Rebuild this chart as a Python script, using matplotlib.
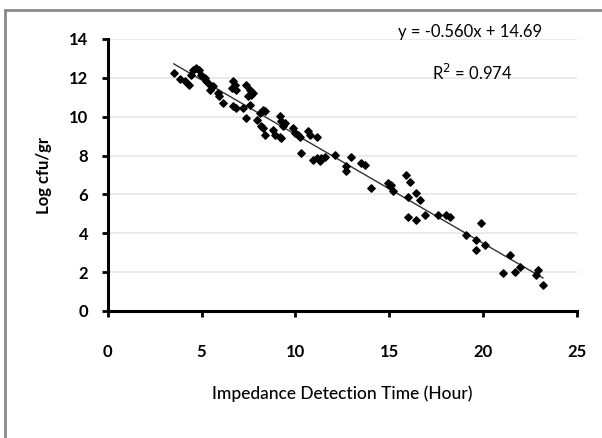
import numpy as np
import matplotlib.pyplot as plt
from matplotlib.lines import Line2D

plt.rcParams['font.family'] = ['Lato', 'DejaVu Sans']

# values
hours = [3.52, 3.84, 4.10, 4.33, 4.46, 4.55, 4.73, 4.87, 4.99, 5.17,
         5.26, 5.44, 5.44, 5.61, 5.88, 5.93, 6.15, 6.68, 6.77, 6.64,
         6.86, 6.68, 6.86, 7.21, 7.39, 7.57, 7.66, 7.75, 7.48, 7.39,
         7.57, 7.93, 8.10, 8.28, 8.37, 8.19, 8.28, 8.37, 8.81, 8.90,
         9.17, 9.26, 9.43, 9.34, 9.26, 9.17, 9.88, 9.97, 10.14, 10.23,
         10.68, 10.77, 11.13, 10.32, 10.94, 11.13, 11.39, 11.57, 11.30, 12.10,
         12.72, 12.72, 12.99, 13.52, 13.70, 14.05, 14.94, 15.12, 15.03, 15.21,
         15.92, 16.10, 16.01, 16.45, 16.63, 16.01, 16.45, 16.90, 17.60, 18.05,
         18.23, 19.12, 19.92, 19.65, 19.65, 20.10, 21.07, 21.43, 21.70, 21.96,
         22.85, 22.94, 23.20]
log_cfu = [12.25, 11.94, 11.82, 11.65, 12.16, 12.42, 12.51, 12.39, 12.16, 11.99,
           11.82, 11.65, 11.39, 11.56, 11.22, 11.08, 10.70, 11.82, 11.65, 11.48,
           11.39, 10.53, 10.45, 10.45, 11.65, 11.39, 11.13, 11.22, 11.05, 9.93,
           10.62, 9.85, 10.19, 10.36, 10.27, 9.50, 9.42, 9.07, 9.33, 9.07,
           10.02, 9.76, 9.68, 9.50, 8.90, 8.98, 9.42, 9.16, 9.07, 8.98,
           9.24, 9.07, 8.98, 8.13, 7.78, 7.87, 7.87, 7.95, 7.70, 8.04,
           7.44, 7.18, 7.95, 7.61, 7.53, 6.32, 6.58, 6.49, 6.41, 6.15,
           7.01, 6.66, 5.89, 6.07, 5.72, 4.86, 4.69, 4.95, 4.95, 4.95,
           4.86, 3.92, 4.52, 3.66, 3.14, 3.40, 1.94, 2.89, 2.03, 2.28,
           1.86, 2.11, 1.34]

slope, intercept = -0.560, 14.69
x_ticks = [0, 5, 10, 15, 20, 25]
y_ticks = [0, 2, 4, 6, 8, 10, 12, 14]

fig = plt.figure(figsize=(6.02, 4.38), dpi=100)
ax = fig.add_axes([0.179, 0.290, 0.779, 0.621])

ax.scatter(hours, log_cfu, marker='D', s=14, color='black', zorder=3)
line_x = np.array([min(hours), max(hours)])
ax.plot(line_x, slope * line_x + intercept, color='#333333', linewidth=1.0, zorder=2)

ax.set_xlim(0, 25)
ax.set_ylim(0, 14)
ax.set_xticks(x_ticks)
ax.set_yticks(y_ticks)
ax.yaxis.grid(True, color='#e6e6e6', linewidth=1.2)
ax.set_axisbelow(True)

for s in ['top', 'right']:
    ax.spines[s].set_visible(False)
for s in ['left', 'bottom']:
    ax.spines[s].set_linewidth(2.2)

ax.tick_params(axis='y', direction='out', length=4, width=2, pad=10, labelsize=12)
ax.tick_params(axis='x', direction='out', length=4, width=2, pad=20, labelsize=12)
for lab in ax.get_yticklabels() + ax.get_xticklabels():
    lab.set_fontweight('bold')

ax.set_ylabel('Log cfu/gr', fontsize=12, fontweight='bold', labelpad=12)
ax.set_xlabel('Impedance Detection Time (Hour)', fontsize=12.5, fontweight='medium', labelpad=18)

fig.text(0.781, 0.927, 'y = -0.560x + 14.69', fontsize=12, ha='center', va='center')
fig.text(0.785, 0.833, 'R$^2$ = 0.974', fontsize=12, ha='center', va='center')

# grey frame round the chart area (only top and left edge visible)
fig.add_artist(Line2D([5 / 602, 5 / 602], [0, 1 - 10 / 438], transform=fig.transFigure,
                      color='#8a8a8a', linewidth=2))
fig.add_artist(Line2D([5 / 602, 1], [1 - 10 / 438, 1 - 10 / 438], transform=fig.transFigure,
                      color='#8a8a8a', linewidth=2))

plt.savefig('out.png', dpi=100)
